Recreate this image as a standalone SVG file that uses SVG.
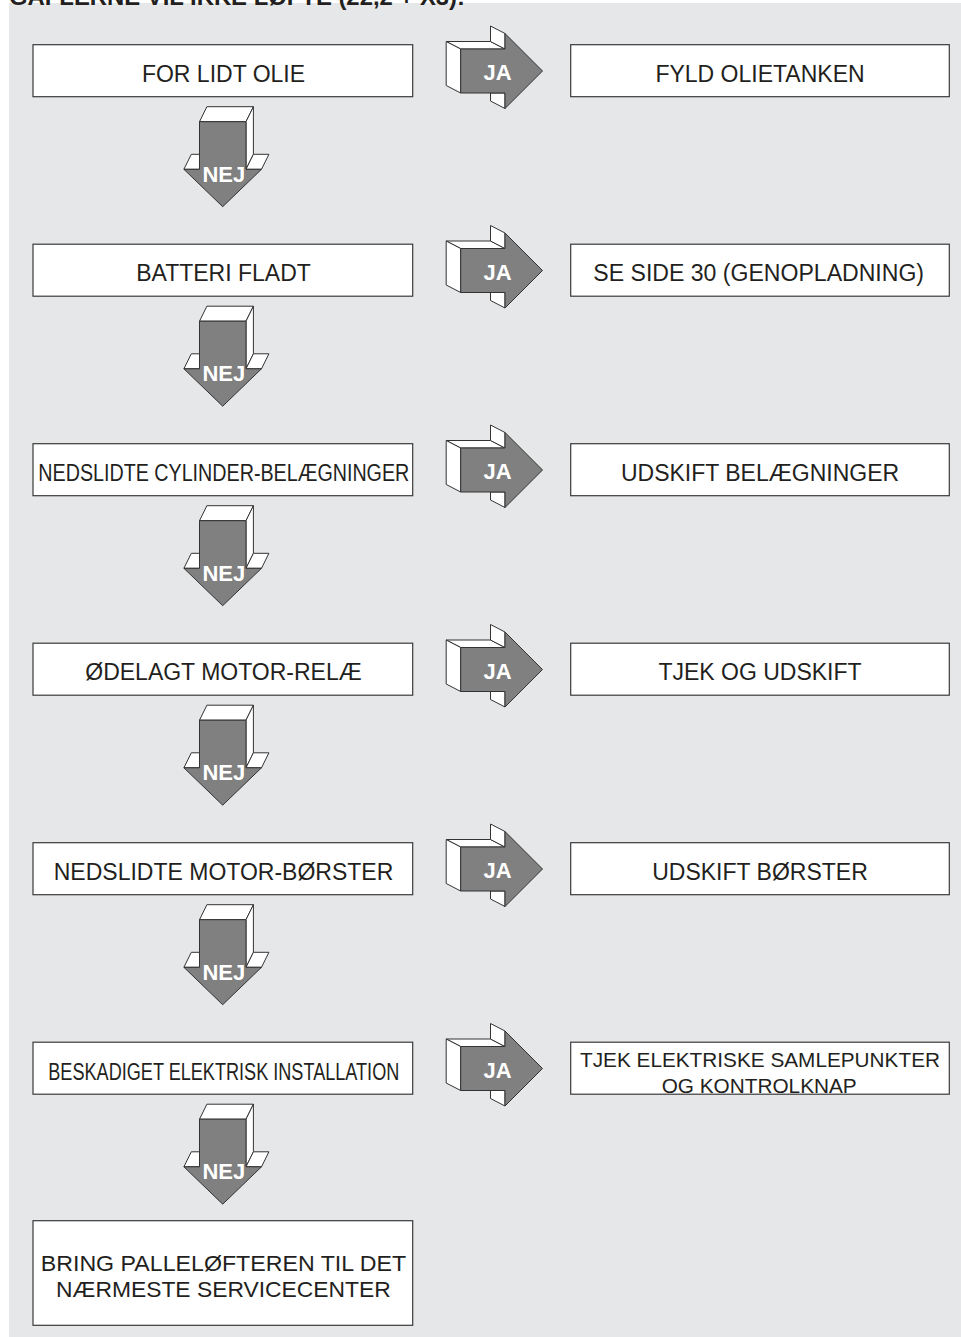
<svg xmlns="http://www.w3.org/2000/svg" width="961" height="1337" viewBox="0 0 961 1337">
<style>
.box{fill:#ffffff;stroke:#3a3a3a;stroke-width:1.2}
.t{font-family:"Liberation Sans",Arial,Helvetica,sans-serif;font-size:23px;fill:#231f20;text-anchor:middle}
.face{fill:#ffffff;stroke:#333333;stroke-width:1;stroke-linejoin:round}
.body{fill:#808080;stroke:#333333;stroke-width:1;stroke-linejoin:round}
.lbl{font-family:"Liberation Sans",Arial,Helvetica,sans-serif;font-size:22px;font-weight:bold;fill:#ffffff;text-anchor:middle}
.title{font-family:"Liberation Sans",Arial,Helvetica,sans-serif;font-size:24px;font-weight:bold;fill:#231f20}
</style>
<defs>
<g id="ja">
<polygon class="face" points="460.7,49 446.2,41.5 490.5,41.5 505,49"/>
<polygon class="face" points="490.5,41.5 490.5,26 505,33.5 505,49"/>
<polygon class="face" points="446.2,41.5 460.7,49 460.7,93 446.2,85.5"/>
<polygon class="face" points="490.5,93 505,93 505,108.5 490.5,101"/>
<polygon class="body" points="460.7,49 505,49 505,33.5 542.5,71 505,108.5 505,93 460.7,93"/>
<text class="lbl" x="497.5" y="80">JA</text>
</g>
<g id="nej">
<polygon class="face" points="199.5,121.7 206.9,106.7 253.4,106.7 246,121.7"/>
<polygon class="face" points="246,121.7 253.4,106.7 253.4,154.3 246,169.3"/>
<polygon class="face" points="253.4,154.3 268.9,154.3 261.5,169.3 246,169.3"/>
<polygon class="face" points="191.3,154.3 199.5,154.3 199.5,169.3 183.9,169.3"/>
<polygon class="body" points="199.5,121.7 246,121.7 246,169.3 261.5,169.3 222.7,206.7 183.9,169.3 199.5,169.3"/>
<text class="lbl" x="223.8" y="181.7">NEJ</text>
</g>
</defs>
<rect x="9" y="3" width="952" height="1334" fill="#e6e7e9"/>
<text class="title" x="9" y="5" textLength="456" lengthAdjust="spacingAndGlyphs">GAFLERNE VIL IKKE LØFTE (22,2 + X3):</text>

<g id="connectors">
<g id="ja1"><use href="#ja"/></g>
<g id="ja2"><use href="#ja" transform="translate(0,199.5)"/></g>
<g id="ja3"><use href="#ja" transform="translate(0,399)"/></g>
<g id="ja4"><use href="#ja" transform="translate(0,598.5)"/></g>
<g id="ja5"><use href="#ja" transform="translate(0,798)"/></g>
<g id="ja6"><use href="#ja" transform="translate(0,997.5)"/></g>
<g id="nej1"><use href="#nej"/></g>
<g id="nej2"><use href="#nej" transform="translate(0,199.5)"/></g>
<g id="nej3"><use href="#nej" transform="translate(0,399)"/></g>
<g id="nej4"><use href="#nej" transform="translate(0,598.5)"/></g>
<g id="nej5"><use href="#nej" transform="translate(0,798)"/></g>
<g id="nej6"><use href="#nej" transform="translate(0,997.5)"/></g>
</g>

<g id="q1"><rect class="box" x="33" y="44.7" width="379.7" height="52"/><text class="t" x="223.5" y="81.7">FOR LIDT OLIE</text></g>
<g id="a1"><rect class="box" x="570.7" y="44.7" width="378.6" height="52"/><text class="t" x="760" y="81.7">FYLD OLIETANKEN</text></g>

<g id="q2"><rect class="box" x="33" y="244.2" width="379.7" height="52"/><text class="t" x="223.5" y="281.2">BATTERI FLADT</text></g>
<g id="a2"><rect class="box" x="570.7" y="244.2" width="378.6" height="52"/><text class="t" x="758.7" y="281.2" textLength="330.7" lengthAdjust="spacingAndGlyphs">SE SIDE 30 (GENOPLADNING)</text></g>

<g id="q3"><rect class="box" x="33" y="443.7" width="379.7" height="52"/><text class="t" x="223.8" y="480.7" textLength="371" lengthAdjust="spacingAndGlyphs">NEDSLIDTE CYLINDER-BELÆGNINGER</text></g>
<g id="a3"><rect class="box" x="570.7" y="443.7" width="378.6" height="52"/><text class="t" x="760" y="480.7">UDSKIFT BELÆGNINGER</text></g>

<g id="q4"><rect class="box" x="33" y="643.2" width="379.7" height="52"/><text class="t" x="223.5" y="680.2">ØDELAGT MOTOR-RELÆ</text></g>
<g id="a4"><rect class="box" x="570.7" y="643.2" width="378.6" height="52"/><text class="t" x="760" y="680.2">TJEK OG UDSKIFT</text></g>

<g id="q5"><rect class="box" x="33" y="842.7" width="379.7" height="52"/><text class="t" x="223.5" y="879.7">NEDSLIDTE MOTOR-BØRSTER</text></g>
<g id="a5"><rect class="box" x="570.7" y="842.7" width="378.6" height="52"/><text class="t" x="760" y="879.7">UDSKIFT BØRSTER</text></g>

<g id="q6"><rect class="box" x="33" y="1042.2" width="379.7" height="52"/><text class="t" x="223.8" y="1080" textLength="351" lengthAdjust="spacingAndGlyphs">BESKADIGET ELEKTRISK INSTALLATION</text></g>
<g id="a6"><rect class="box" x="570.7" y="1042.2" width="378.6" height="52"/><text class="t" x="760" y="1066.7" style="font-size:21px" textLength="360" lengthAdjust="spacingAndGlyphs">TJEK ELEKTRISKE SAMLEPUNKTER</text><text class="t" x="759.2" y="1092.7" style="font-size:21px" textLength="195" lengthAdjust="spacingAndGlyphs">OG KONTROLKNAP</text></g>

<g id="final"><rect class="box" x="33" y="1220.7" width="379.7" height="104.6"/><text class="t" x="223.4" y="1270.7" style="font-size:22px" textLength="365.3" lengthAdjust="spacingAndGlyphs">BRING PALLELØFTEREN TIL DET</text><text class="t" x="223.4" y="1296.7" style="font-size:22px" textLength="334.7" lengthAdjust="spacingAndGlyphs">NÆRMESTE SERVICECENTER</text></g>
</svg>
